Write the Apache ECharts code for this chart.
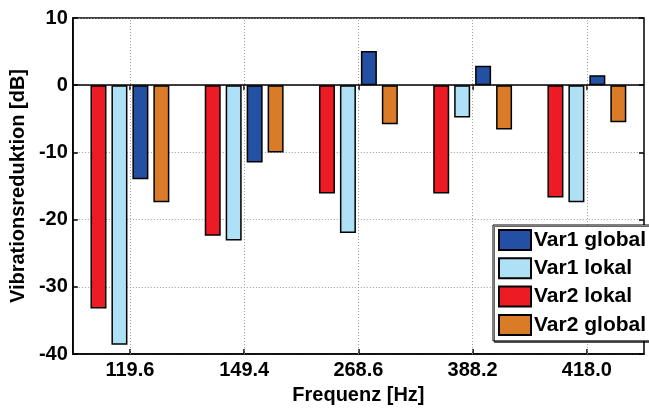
<!DOCTYPE html>
<html>
<head>
<meta charset="utf-8">
<script src="https://cdn.jsdelivr.net/npm/echarts@6/dist/echarts.min.js"></script>
<style>html,body{margin:0;padding:0;background:#fff}#c{width:649px;height:410px}</style>
</head>
<body>
<div id="c"></div>
<script>
const categories = ['119.6', '149.4', '268.6', '388.2', '418.0'];
const var2Lokal = [-33.2, -22.4, -16.1, -16.1, -16.7];
const var1Lokal = [-38.6, -23.1, -22.0, -4.8, -17.4];
const var1Global = [-14.0, -11.5, 5.1, 2.9, 1.5];
const var2Global = [-17.4, -10.0, -5.8, -6.6, -5.5];
const yTicks = { min: -40, max: 10, interval: 10 };
const legendOrder = ['Var1 global', 'Var1 lokal', 'Var2 lokal', 'Var2 global'];

const FONT = 'Liberation Sans, Arial, sans-serif';
const txt = { color: '#000', fontWeight: 'bold', fontSize: 20, fontFamily: FONT };

function bar(name, data, color) {
  return {
    name: name, type: 'bar', data: data, barWidth: 16, barGap: '31%', z: 3,
    itemStyle: { color: color, borderColor: '#000', borderWidth: 1.5 },
    emphasis: { disabled: true }, animation: false
  };
}

const chart = echarts.init(document.getElementById('c'));
chart.setOption({
  animation: false,
  grid: { left: 69, right: 5, top: 18, bottom: 51, show: true, borderColor: '#000', borderWidth: 1.5, backgroundColor: '#fff' },
  legend: {
    data: legendOrder, orient: 'vertical', left: 493, top: 225,
    itemWidth: 32, itemHeight: 20, itemGap: 6.3, padding: [4, 4, 5, 5],
    backgroundColor: '#fff', borderColor: '#000', borderWidth: 1,
    shadowColor: 'rgba(0,0,0,0.6)', shadowOffsetX: 1.5, shadowOffsetY: 1.5, shadowBlur: 0,
    icon: 'rect', textStyle: Object.assign({}, txt, { fontSize: 21, padding: [0, 0, 0, -2] })
  },
  xAxis: [
    { type: 'category', data: categories, position: 'bottom',
      name: 'Frequenz [Hz]', nameLocation: 'middle', nameGap: 28, nameTextStyle: txt,
      axisLine: { show: true, lineStyle: { color: '#000', width: 1.5 }, onZero: false },
      axisTick: { show: true, inside: true, alignWithLabel: true, length: 5, lineStyle: { color: '#000', width: 1.5 } },
      axisLabel: Object.assign({ margin: 6 }, txt), splitLine: { show: false } },
    { type: 'category', data: categories, position: 'top',
      axisLine: { show: false }, axisLabel: { show: false }, splitLine: { show: false },
      axisTick: { show: true, inside: true, alignWithLabel: true, length: 5, lineStyle: { color: '#000', width: 1.5 } } }
  ],
  yAxis: [
    { type: 'value', min: yTicks.min, max: yTicks.max, interval: yTicks.interval,
      name: 'Vibrationsreduktion [dB]', nameLocation: 'middle', nameGap: 38, nameTextStyle: txt,
      axisLine: { show: true, lineStyle: { color: '#000', width: 1.5 } },
      axisTick: { show: true, inside: true, length: 5, lineStyle: { color: '#000', width: 1.5 } },
      axisLabel: Object.assign({ margin: 5 }, txt),
      splitLine: { show: true, lineStyle: { color: '#9a9a9a', type: [1, 2], width: 1 } } },
    { type: 'value', min: yTicks.min, max: yTicks.max, interval: yTicks.interval, position: 'right',
      axisLine: { show: false }, axisLabel: { show: false }, splitLine: { show: false },
      axisTick: { show: true, inside: true, length: 5, lineStyle: { color: '#000', width: 1.5 } } }
  ],
  series: [
    { name: 'gridV', type: 'line', data: categories.map(() => null), showSymbol: false, silent: true, z: 1,
      lineStyle: { opacity: 0 },
      markLine: { silent: true, symbol: 'none', label: { show: false }, animation: false, z: 1,
        lineStyle: { color: '#9a9a9a', type: [1, 2], width: 1 },
        data: categories.map(c => ({ xAxis: c })) } },
    { name: 'zero', type: 'line', data: categories.map(() => null), showSymbol: false, silent: true, z: 2,
      lineStyle: { opacity: 0 },
      markLine: { silent: true, symbol: 'none', label: { show: false }, animation: false, z: 2,
        lineStyle: { color: '#000', type: 'solid', width: 1.5 },
        data: [{ yAxis: 0 }] } },
    bar('Var2 lokal', var2Lokal, '#ED1C24'),
    bar('Var1 lokal', var1Lokal, '#AEE1F5'),
    bar('Var1 global', var1Global, '#2350A2'),
    bar('Var2 global', var2Global, '#DA7B27')
  ]
});
</script>
</body>
</html>
